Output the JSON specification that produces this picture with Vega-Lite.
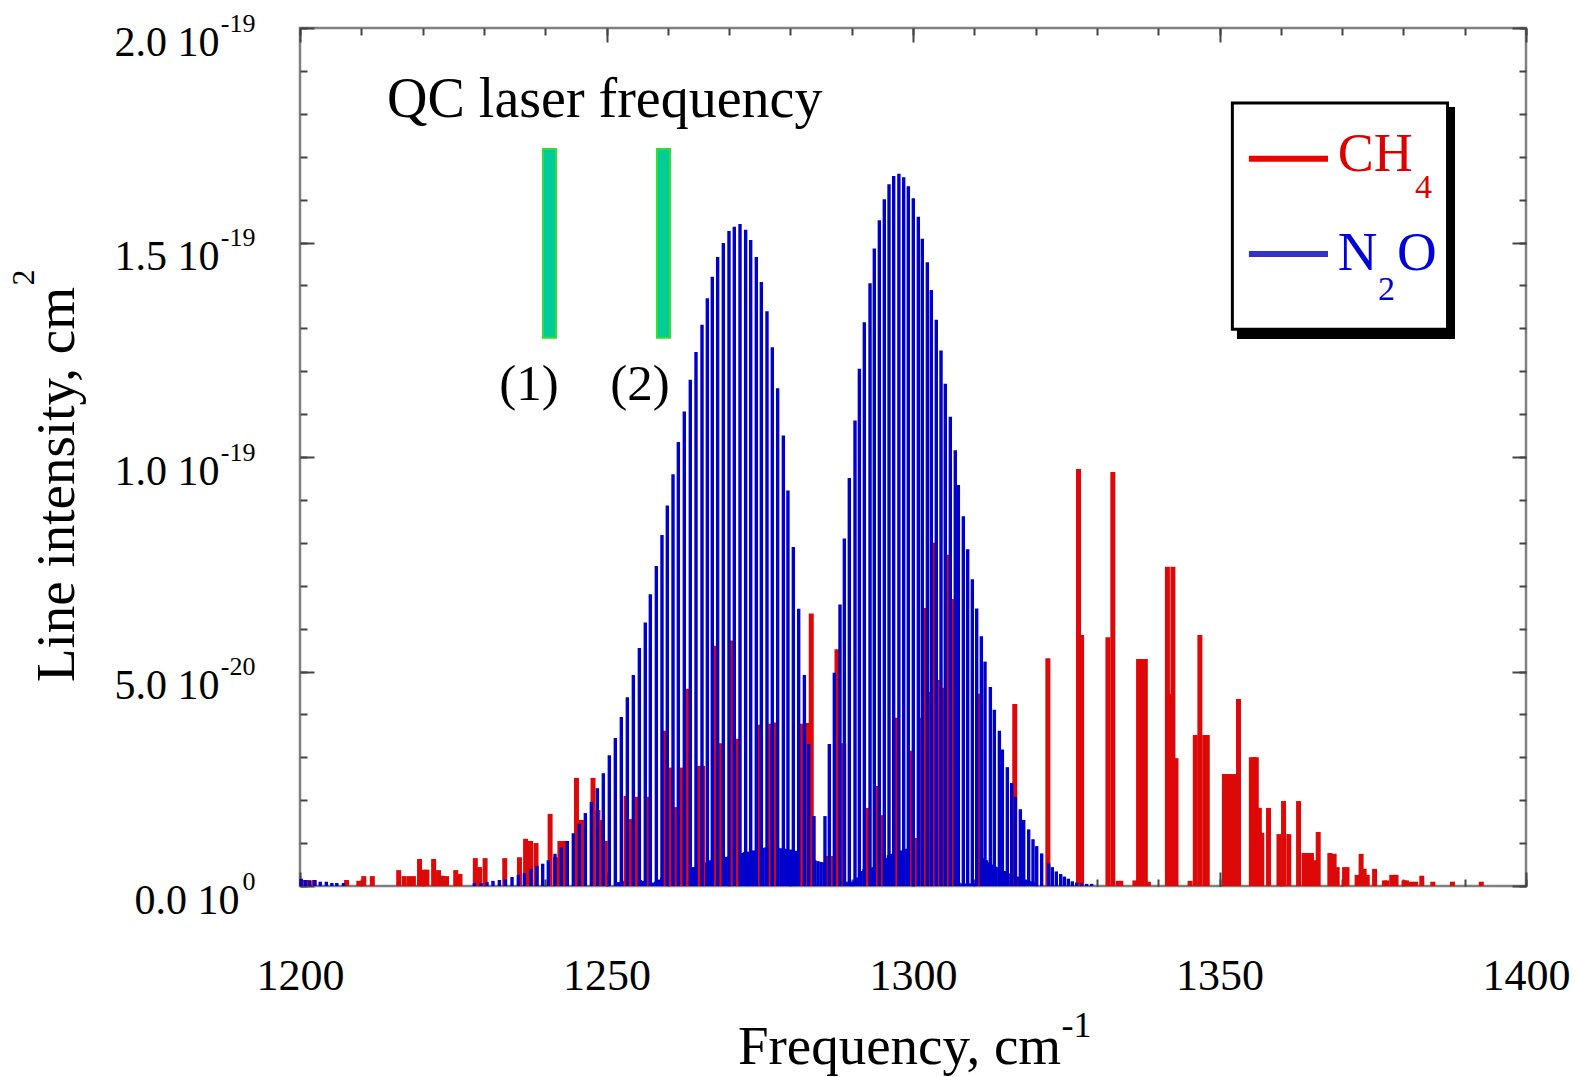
{
  "$schema": "https://vega.github.io/schema/vega-lite/v6.json",
  "width": 1226,
  "height": 858,
  "autosize": {"type": "none"},
  "padding": {"left": 300, "top": 28, "right": 51, "bottom": 191},
  "background": "white",
  "config": {
    "view": {"stroke": "#808080", "strokeWidth": 2.5},
    "font": "Liberation Serif",
    "axis": {"grid": false, "labelFont": "Liberation Serif", "titleFont": "Liberation Serif", "labelColor": "black", "titleColor": "black", "titleFontWeight": "normal", "labelOverlap": false, "labelFlush": false}
  },
  "datasets": {
    "hot": [
      {"f":1252.0,"s":0.09e-20},{"f":1252.5,"s":0.1e-20},{"f":1253.0,"s":0.12e-20},{"f":1253.5,"s":0.14e-20},{"f":1254.0,"s":0.14e-20},{"f":1254.5,"s":0.14e-20},{"f":1255.0,"s":0.14e-20},{"f":1255.5,"s":0.14e-20},{"f":1256.0,"s":0.12e-20},{"f":1256.5,"s":0.1e-20},{"f":1257.0,"s":0.08e-20},{"f":1257.5,"s":0.08e-20},{"f":1258.0,"s":0.1e-20},{"f":1258.5,"s":0.15e-20},{"f":1259.0,"s":0.2e-20},{"f":1259.5,"s":0.26e-20},{"f":1260.0,"s":0.28e-20},{"f":1260.5,"s":0.3e-20},{"f":1261.0,"s":0.3e-20},{"f":1261.5,"s":0.33e-20},{"f":1262.0,"s":0.37e-20},{"f":1262.5,"s":0.37e-20},{"f":1263.0,"s":0.4e-20},{"f":1263.5,"s":0.42e-20},{"f":1264.0,"s":0.44e-20},{"f":1264.5,"s":0.44e-20},{"f":1265.0,"s":0.5e-20},{"f":1265.5,"s":0.54e-20},{"f":1266.0,"s":0.55e-20},{"f":1266.5,"s":0.55e-20},{"f":1267.0,"s":0.6e-20},{"f":1267.5,"s":0.62e-20},{"f":1268.0,"s":0.65e-20},{"f":1268.5,"s":0.65e-20},{"f":1269.0,"s":0.66e-20},{"f":1269.5,"s":0.68e-20},{"f":1270.0,"s":0.7e-20},{"f":1270.5,"s":0.7e-20},{"f":1271.0,"s":0.72e-20},{"f":1271.5,"s":0.74e-20},{"f":1272.0,"s":0.77e-20},{"f":1272.5,"s":0.79e-20},{"f":1273.0,"s":0.8e-20},{"f":1273.5,"s":0.82e-20},{"f":1274.0,"s":0.83e-20},{"f":1274.5,"s":0.85e-20},{"f":1275.0,"s":0.88e-20},{"f":1275.5,"s":0.89e-20},{"f":1276.0,"s":0.9e-20},{"f":1276.5,"s":0.9e-20},{"f":1277.0,"s":0.9e-20},{"f":1277.5,"s":0.9e-20},{"f":1278.0,"s":0.89e-20},{"f":1278.5,"s":0.88e-20},{"f":1279.0,"s":0.87e-20},{"f":1279.5,"s":0.86e-20},{"f":1280.0,"s":0.85e-20},{"f":1280.5,"s":0.83e-20},{"f":1281.0,"s":0.82e-20},{"f":1281.5,"s":0.8e-20},{"f":1282.0,"s":0.76e-20},{"f":1282.5,"s":0.72e-20},{"f":1283.0,"s":0.7e-20},{"f":1283.5,"s":0.65e-20},{"f":1284.0,"s":0.6e-20},{"f":1284.5,"s":0.58e-20},{"f":1285.0,"s":0.56e-20},{"f":1285.5,"s":0.55e-20},{"f":1286.0,"s":0.5e-20},{"f":1286.5,"s":0.4e-20},{"f":1287.0,"s":0.35e-20},{"f":1287.5,"s":0.3e-20},{"f":1288.0,"s":0.2e-20},{"f":1288.5,"s":0.12e-20},{"f":1289.0,"s":0.1e-20},{"f":1289.5,"s":0.1e-20},{"f":1290.0,"s":0.1e-20},{"f":1290.5,"s":0.12e-20},{"f":1291.0,"s":0.2e-20},{"f":1291.5,"s":0.35e-20},{"f":1292.0,"s":0.39e-20},{"f":1292.5,"s":0.4e-20},{"f":1293.0,"s":0.42e-20},{"f":1293.5,"s":0.44e-20},{"f":1294.0,"s":0.5e-20},{"f":1294.5,"s":0.58e-20},{"f":1295.0,"s":0.6e-20},{"f":1295.5,"s":0.65e-20},{"f":1296.0,"s":0.72e-20},{"f":1296.5,"s":0.75e-20},{"f":1297.0,"s":0.77e-20},{"f":1297.5,"s":0.8e-20},{"f":1298.0,"s":0.83e-20},{"f":1298.5,"s":0.85e-20},{"f":1299.0,"s":0.87e-20},{"f":1299.5,"s":0.9e-20},{"f":1300.0,"s":0.93e-20},{"f":1300.5,"s":0.95e-20},{"f":1301.0,"s":0.97e-20},{"f":1301.5,"s":0.98e-20},{"f":1302.0,"s":0.98e-20},{"f":1302.5,"s":0.98e-20},{"f":1303.0,"s":0.98e-20},{"f":1303.5,"s":0.98e-20},{"f":1304.0,"s":0.98e-20},{"f":1304.5,"s":0.98e-20},{"f":1305.0,"s":0.98e-20},{"f":1305.5,"s":0.97e-20},{"f":1306.0,"s":0.96e-20},{"f":1306.5,"s":0.5e-20},{"f":1307.0,"s":0.1e-20},{"f":1307.5,"s":0.08e-20},{"f":1308.0,"s":0.06e-20},{"f":1308.5,"s":0.06e-20},{"f":1309.0,"s":0.06e-20},{"f":1309.5,"s":0.06e-20},{"f":1310.0,"s":0.06e-20},{"f":1310.5,"s":0.3e-20},{"f":1311.0,"s":0.62e-20},{"f":1311.5,"s":0.65e-20},{"f":1312.0,"s":0.6e-20},{"f":1312.5,"s":0.55e-20},{"f":1313.0,"s":0.5e-20},{"f":1313.5,"s":0.45e-20},{"f":1314.0,"s":0.43e-20},{"f":1314.5,"s":0.4e-20},{"f":1315.0,"s":0.35e-20},{"f":1315.5,"s":0.3e-20},{"f":1316.0,"s":0.27e-20},{"f":1316.5,"s":0.25e-20},{"f":1317.0,"s":0.22e-20},{"f":1317.5,"s":0.2e-20},{"f":1318.0,"s":0.18e-20},{"f":1318.5,"s":0.15e-20},{"f":1319.0,"s":0.12e-20},{"f":1319.5,"s":0.1e-20},{"f":1320.0,"s":0.08e-20}
    ],
    "n2o": [
      {"f":1200.2,"s":0.17e-20},{"f":1200.9,"s":0.14e-20},{"f":1201.6,"s":0.12e-20},{"f":1202.4,"s":0.14e-20},{"f":1203.3,"s":0.1e-20},{"f":1204.3,"s":0.1e-20},{"f":1205.2,"s":0.07e-20},{"f":1206.0,"s":0.07e-20},{"f":1207.1,"s":0.07e-20},
      {"f":1228.44,"s":0.07e-20},{"f":1229.53,"s":0.07e-20},{"f":1230.51,"s":0.09e-20},{"f":1231.48,"s":0.12e-20},{"f":1232.52,"s":0.14e-20},{"f":1233.5,"s":0.16e-20},{"f":1234.59,"s":0.21e-20},{"f":1235.62,"s":0.26e-20},{"f":1236.6,"s":0.3e-20},{"f":1237.68,"s":0.4e-20},{"f":1238.66,"s":0.47e-20},
      {"f":1239.59,"s":0.52e-20},{"f":1240.51,"s":0.6e-20},{"f":1241.6,"s":0.75e-20},{"f":1242.63,"s":0.9e-20},{"f":1243.61,"s":1.05e-20},{"f":1244.59,"s":1.23e-20},{"f":1245.57,"s":1.45e-20},{"f":1246.55,"s":1.7e-20},{"f":1247.53,"s":1.96e-20},{"f":1248.51,"s":2.28e-20},{"f":1249.48,"s":2.63e-20},{"f":1250.46,"s":3.05e-20},{"f":1251.44,"s":3.45e-20},{"f":1252.42,"s":3.94e-20},{"f":1253.4,"s":4.4e-20},{"f":1254.38,"s":4.92e-20},{"f":1255.36,"s":5.55e-20},{"f":1256.33,"s":6.14e-20},{"f":1257.15,"s":6.8e-20},{"f":1258.13,"s":7.46e-20},{"f":1259.05,"s":8.18e-20},{"f":1259.92,"s":8.87e-20},{"f":1260.85,"s":9.6e-20},{"f":1261.72,"s":10.35e-20},{"f":1262.69,"s":11.06e-20},{"f":1263.67,"s":11.8e-20},{"f":1264.6,"s":12.45e-20},{"f":1265.58,"s":13.08e-20},{"f":1266.45,"s":13.7e-20},{"f":1267.26,"s":14.2e-20},{"f":1268.13,"s":14.66e-20},{"f":1269.06,"s":14.99e-20},{"f":1269.98,"s":15.27e-20},{"f":1270.85,"s":15.37e-20},{"f":1271.78,"s":15.43e-20},{"f":1272.7,"s":15.3e-20},{"f":1273.52,"s":15.06e-20},{"f":1274.44,"s":14.66e-20},{"f":1275.26,"s":14.08e-20},{"f":1276.18,"s":13.4e-20},{"f":1277.05,"s":12.56e-20},{"f":1277.92,"s":11.6e-20},{"f":1278.85,"s":10.5e-20},{"f":1279.6,"s":9.22e-20},{"f":1280.48,"s":7.9e-20},{"f":1281.35,"s":6.46e-20},{"f":1282.28,"s":4.92e-20},{"f":1282.98,"s":3.31e-20},{"f":1283.85,"s":1.63e-20},
      {"f":1285.64,"s":1.63e-20},{"f":1286.35,"s":3.31e-20},{"f":1287.17,"s":4.97e-20},{"f":1288.09,"s":6.56e-20},{"f":1288.8,"s":8.1e-20},{"f":1289.61,"s":9.51e-20},{"f":1290.54,"s":10.85e-20},{"f":1291.25,"s":12.06e-20},{"f":1292.06,"s":13.14e-20},{"f":1292.99,"s":14.05e-20},{"f":1293.69,"s":14.86e-20},{"f":1294.51,"s":15.52e-20},{"f":1295.32,"s":16.01e-20},{"f":1296.09,"s":16.36e-20},{"f":1296.85,"s":16.55e-20},{"f":1297.7,"s":16.6e-20},{"f":1298.48,"s":16.52e-20},{"f":1299.24,"s":16.31e-20},{"f":1300.05,"s":16.03e-20},{"f":1300.87,"s":15.6e-20},{"f":1301.52,"s":15.09e-20},{"f":1302.34,"s":14.54e-20},{"f":1302.99,"s":13.89e-20},{"f":1303.8,"s":13.2e-20},{"f":1304.57,"s":12.48e-20},{"f":1305.27,"s":11.71e-20},{"f":1306.09,"s":10.94e-20},{"f":1306.9,"s":10.16e-20},{"f":1307.4,"s":9.35e-20},{"f":1308.21,"s":8.62e-20},{"f":1308.92,"s":7.85e-20},{"f":1309.68,"s":7.15e-20},{"f":1310.39,"s":6.47e-20},{"f":1311.15,"s":5.82e-20},{"f":1311.75,"s":5.23e-20},{"f":1312.62,"s":4.64e-20},{"f":1313.27,"s":4.11e-20},{"f":1314.09,"s":3.62e-20},{"f":1314.58,"s":3.18e-20},{"f":1315.39,"s":2.77e-20},{"f":1316.1,"s":2.4e-20},{"f":1316.7,"s":2.08e-20},{"f":1317.51,"s":1.79e-20},{"f":1318.06,"s":1.54e-20},{"f":1318.87,"s":1.32e-20},{"f":1319.58,"s":1.09e-20},{"f":1320.18,"s":0.93e-20},{"f":1320.99,"s":0.76e-20},{"f":1322.13,"s":0.53e-20},{"f":1322.73,"s":0.44e-20},{"f":1323.38,"s":0.34e-20},{"f":1324.09,"s":0.28e-20},{"f":1324.69,"s":0.22e-20},{"f":1325.34,"s":0.17e-20},{"f":1325.99,"s":0.11e-20},{"f":1326.7,"s":0.08e-20},{"f":1327.51,"s":0.06e-20},{"f":1328.33,"s":0.05e-20},{"f":1329.15,"s":0.05e-20}
    ],
    "ch4": [
      {"f":1200.8,"s":0.14e-20},{"f":1201.4,"s":0.14e-20},{"f":1202.3,"s":0.14e-20},{"f":1207.6,"s":0.14e-20},{"f":1209.6,"s":0.12e-20},{"f":1210.4,"s":0.23e-20},{"f":1211.8,"s":0.23e-20},{"f":1216.1,"s":0.37e-20},{"f":1217.0,"s":0.23e-20},{"f":1217.8,"s":0.23e-20},{"f":1218.5,"s":0.23e-20},{"f":1219.5,"s":0.63e-20},{"f":1220.2,"s":0.38e-20},{"f":1220.7,"s":0.38e-20},{"f":1221.8,"s":0.63e-20},{"f":1222.6,"s":0.37e-20},{"f":1223.2,"s":0.24e-20},{"f":1223.9,"s":0.23e-20},{"f":1225.4,"s":0.37e-20},{"f":1226.1,"s":0.28e-20},{"f":1228.6,"s":0.65e-20},{"f":1229.3,"s":0.44e-20},{"f":1230.2,"s":0.65e-20},{"f":1233.4,"s":0.65e-20},{"f":1235.8,"s":0.67e-20},{"f":1236.8,"s":1.1e-20},{"f":1237.6,"s":1.05e-20},{"f":1238.5,"s":1.0e-20},{"f":1240.8,"s":1.68e-20},{"f":1241.7,"s":0.67e-20},{"f":1242.4,"s":1.05e-20},{"f":1243.1,"s":1.05e-20},{"f":1245.1,"s":2.52e-20},{"f":1245.9,"s":1.54e-20},{"f":1247.8,"s":2.52e-20},{"f":1248.6,"s":1.77e-20},{"f":1249.3,"s":1.54e-20},{"f":1249.8,"s":1.05e-20},{"f":1253.2,"s":2.1e-20},{"f":1253.9,"s":1.56e-20},{"f":1254.8,"s":2.08e-20},{"f":1256.8,"s":2.08e-20},{"f":1259.6,"s":3.62e-20},{"f":1260.4,"s":2.76e-20},{"f":1261.4,"s":1.84e-20},{"f":1262.3,"s":2.76e-20},{"f":1263.2,"s":4.6e-20},{"f":1265.2,"s":2.8e-20},{"f":1265.7,"s":2.8e-20},{"f":1267.7,"s":5.6e-20},{"f":1268.6,"s":3.33e-20},{"f":1270.45,"s":5.72e-20},{"f":1271.35,"s":3.43e-20},{"f":1274.9,"s":3.76e-20},{"f":1276.8,"s":3.78e-20},{"f":1277.4,"s":3.81e-20},{"f":1281.7,"s":3.78e-20},{"f":1282.75,"s":3.8e-20},{"f":1283.4,"s":6.35e-20},{"f":1286.2,"s":0.7e-20},{"f":1286.6,"s":0.7e-20},{"f":1287.6,"s":5.52e-20},{"f":1288.7,"s":3.33e-20},{"f":1292.5,"s":1.82e-20},{"f":1294.2,"s":2.33e-20},{"f":1294.95,"s":1.65e-20},{"f":1297.3,"s":3.92e-20},{"f":1299.6,"s":3.15e-20},{"f":1300.45,"s":1.12e-20},{"f":1301.2,"s":3.92e-20},{"f":1301.9,"s":6.48e-20},{"f":1302.7,"s":4.52e-20},{"f":1303.4,"s":8.0e-20},{"f":1304.2,"s":4.8e-20},{"f":1305.0,"s":4.62e-20},{"f":1305.7,"s":7.72e-20},{"f":1306.35,"s":6.69e-20},{"f":1306.7,"s":2.9e-20},{"f":1311.0,"s":4.48e-20},{"f":1316.6,"s":4.24e-20},{"f":1322.0,"s":5.31e-20},{"f":1327.0,"s":9.72e-20},{"f":1327.5,"s":5.85e-20},{"f":1331.8,"s":5.8e-20},{"f":1332.6,"s":9.65e-20},{"f":1333.5,"s":0.12e-20},{"f":1333.9,"s":0.12e-20},{"f":1336.2,"s":0.13e-20},{"f":1336.8,"s":5.29e-20},{"f":1337.35,"s":5.29e-20},{"f":1337.9,"s":5.29e-20},{"f":1338.4,"s":0.1e-20},{"f":1341.5,"s":7.44e-20},{"f":1341.95,"s":4.48e-20},{"f":1342.4,"s":7.44e-20},{"f":1342.9,"s":2.98e-20},{"f":1345.2,"s":0.12e-20},{"f":1346.05,"s":3.52e-20},{"f":1346.8,"s":5.85e-20},{"f":1347.6,"s":3.52e-20},{"f":1348.0,"s":3.52e-20},{"f":1350.8,"s":2.61e-20},{"f":1351.35,"s":2.61e-20},{"f":1351.8,"s":2.61e-20},{"f":1352.5,"s":2.61e-20},{"f":1353.1,"s":4.36e-20},{"f":1355.2,"s":3.0e-20},{"f":1355.6,"s":3.0e-20},{"f":1356.0,"s":3.0e-20},{"f":1356.5,"s":1.82e-20},{"f":1356.9,"s":1.24e-20},{"f":1358.0,"s":1.82e-20},{"f":1359.7,"s":1.21e-20},{"f":1360.45,"s":1.98e-20},{"f":1361.3,"s":1.21e-20},{"f":1362.9,"s":1.98e-20},{"f":1363.8,"s":0.77e-20},{"f":1364.4,"s":0.77e-20},{"f":1365.0,"s":0.77e-20},{"f":1365.45,"s":0.6e-20},{"f":1366.1,"s":1.26e-20},{"f":1368.0,"s":0.77e-20},{"f":1368.7,"s":0.75e-20},{"f":1369.2,"s":0.44e-20},{"f":1370.4,"s":0.44e-20},{"f":1370.8,"s":0.44e-20},{"f":1372.45,"s":0.26e-20},{"f":1373.1,"s":0.75e-20},{"f":1373.6,"s":0.4e-20},{"f":1374.1,"s":0.26e-20},{"f":1375.3,"s":0.4e-20},{"f":1376.9,"s":0.13e-20},{"f":1377.3,"s":0.13e-20},{"f":1378.1,"s":0.26e-20},{"f":1378.8,"s":0.26e-20},{"f":1380.1,"s":0.13e-20},{"f":1380.5,"s":0.13e-20},{"f":1381.3,"s":0.1e-20},{"f":1382.0,"s":0.1e-20},{"f":1383.0,"s":0.24e-20},{"f":1384.8,"s":0.1e-20},{"f":1388.0,"s":0.1e-20},{"f":1392.7,"s":0.1e-20}
    ]
  },
  "resolve": {"axis": {"x": "independent", "y": "independent"}},
  "layer": [
    {
      "data": {"name": "hot"},
      "mark": {"type": "bar", "orient": "vertical", "size": 3.4, "color": "#0000cc"},
      "encoding": {
        "x": {"field": "f", "type": "quantitative",
          "scale": {"domain": [1200, 1400], "nice": false, "zero": false, "padding": 0},
          "axis": {"orient": "bottom", "values": [1200, 1250, 1300, 1350, 1400], "format": "d", "ticks": false, "domain": false,
            "labelFontSize": 44, "labelPadding": 68, "labelBaseline": "top",
            "title": "Frequency, cm", "titleFontSize": 55, "titleX": 599, "titleY": 177, "titleBaseline": "alphabetic", "titleAlign": "center"}},
        "y": {"field": "s", "type": "quantitative", "stack": null,
          "scale": {"domain": [0, 2e-19], "nice": false, "zero": true},
          "axis": {"orient": "left", "values": [0, 5e-20, 1e-19, 1.5e-19, 2e-19], "ticks": false, "domain": false,
            "labelExpr": "datum.value == 0 ? '0.0 10' : (datum.value < 9e-20 ? format(datum.value*1e20, '.1f') : format(datum.value*1e19, '.1f')) + ' 10'",
            "labelFontSize": 42, "labelAlign": "right", "labelBaseline": "top", "labelOffset": -6,
            "labelPadding": {"condition": {"test": "datum.value == 0", "value": 61}, "value": 81},
            "title": "Line intensity, cm", "titleFontSize": 55, "titleAngle": -90, "titleX": -227, "titleY": 456, "titleBaseline": "alphabetic", "titleAlign": "center"}}
      }
    },
    {
      "data": {"name": "ch4"},
      "mark": {"type": "bar", "orient": "vertical", "size": 5, "color": "#dd0808"},
      "encoding": {
        "x": {"field": "f", "type": "quantitative",
          "scale": {"domain": [1200, 1400], "nice": false, "zero": false, "padding": 0},
          "axis": {"orient": "bottom", "values": [1200, 1250, 1300, 1350, 1400], "labels": false, "domain": false,
            "tickSize": -14, "tickWidth": 2, "tickColor": "#444444",
            "title": "-1", "titleFontSize": 36, "titleX": 776, "titleY": 150, "titleBaseline": "alphabetic", "titleAlign": "center"}},
        "y": {"field": "s", "type": "quantitative", "stack": null,
          "scale": {"domain": [0, 2e-19], "nice": false, "zero": true},
          "axis": {"orient": "left", "values": [0, 5e-20, 1e-19, 1.5e-19, 2e-19], "ticks": false, "domain": false,
            "labelExpr": "datum.value == 0 ? '0' : (datum.value < 9e-20 ? '-20' : '-19')",
            "labelFontSize": 26, "labelAlign": "right", "labelBaseline": "top", "labelPadding": 45, "labelOffset": -18,
            "title": "2", "titleFontSize": 32, "titleAngle": -90, "titleX": -267, "titleY": 249, "titleBaseline": "alphabetic", "titleAlign": "center"}}
      }
    },
    {
      "data": {"name": "n2o"},
      "mark": {"type": "bar", "orient": "vertical", "size": 3.4, "color": "#0000cc"},
      "encoding": {
        "x": {"field": "f", "type": "quantitative",
          "scale": {"domain": [1200, 1400], "nice": false, "zero": false, "padding": 0},
          "axis": {"orient": "bottom", "values": [1200,1210,1220,1230,1240,1250,1260,1270,1280,1290,1300,1310,1320,1330,1340,1350,1360,1370,1380,1390,1400],
            "labels": false, "domain": false, "tickSize": -7, "tickWidth": 2, "tickColor": "#444444", "title": null}},
        "y": {"field": "s", "type": "quantitative", "stack": null,
          "scale": {"domain": [0, 2e-19], "nice": false, "zero": true},
          "axis": {"orient": "left", "values": [0, 5e-20, 1e-19, 1.5e-19, 2e-19], "labels": false, "domain": false,
            "tickSize": -14, "tickWidth": 2, "tickColor": "#444444", "title": null}}
      }
    },
    {
      "data": {"values": [
        {"label": "(1)", "f1": 1239.64, "f2": 1241.76, "s1": 12.78e-20, "s2": 17.18e-20},
        {"label": "(2)", "f1": 1258.24, "f2": 1260.36, "s1": 12.78e-20, "s2": 17.18e-20}
      ]},
      "mark": {"type": "rect", "fill": "#00cc99", "stroke": "#33dd33", "strokeWidth": 2},
      "encoding": {
        "x": {"field": "f1", "type": "quantitative",
          "scale": {"domain": [1200, 1400], "nice": false, "zero": false, "padding": 0},
          "axis": {"orient": "top", "values": [1200, 1250, 1300, 1350, 1400], "labels": false, "domain": false,
            "tickSize": -14, "tickWidth": 2, "tickColor": "#444444", "title": null}},
        "x2": {"field": "f2"},
        "y": {"field": "s1", "type": "quantitative",
          "scale": {"domain": [0, 2e-19], "nice": false, "zero": true},
          "axis": {"orient": "left", "values": [0,1e-20,2e-20,3e-20,4e-20,5e-20,6e-20,7e-20,8e-20,9e-20,10e-20,11e-20,12e-20,13e-20,14e-20,15e-20,16e-20,17e-20,18e-20,19e-20,20e-20],
            "labels": false, "domain": false, "tickSize": -7, "tickWidth": 2, "tickColor": "#444444", "title": null}},
        "y2": {"field": "s2"}
      }
    },
    {
      "data": {"values": [{"f": 1214.2, "s": 17.93e-20, "text": "QC laser frequency"}]},
      "mark": {"type": "text", "font": "Liberation Serif", "fontSize": 56, "align": "left", "baseline": "alphabetic", "color": "black"},
      "encoding": {
        "x": {"field": "f", "type": "quantitative",
          "scale": {"domain": [1200, 1400], "nice": false, "zero": false, "padding": 0},
          "axis": {"orient": "top", "values": [1200,1210,1220,1230,1240,1250,1260,1270,1280,1290,1300,1310,1320,1330,1340,1350,1360,1370,1380,1390,1400],
            "labels": false, "domain": false, "tickSize": -7, "tickWidth": 2, "tickColor": "#444444", "title": null}},
        "y": {"field": "s", "type": "quantitative",
          "scale": {"domain": [0, 2e-19], "nice": false, "zero": true},
          "axis": {"orient": "right", "values": [0, 5e-20, 1e-19, 1.5e-19, 2e-19], "labels": false, "domain": false,
            "tickSize": -14, "tickWidth": 2, "tickColor": "#444444", "title": null}},
        "text": {"field": "text"}
      }
    },
    {
      "data": {"values": [
        {"f": 1237.36, "s": 11.33e-20, "text": "(1)"},
        {"f": 1255.46, "s": 11.33e-20, "text": "(2)"}
      ]},
      "mark": {"type": "text", "font": "Liberation Serif", "fontSize": 51, "align": "center", "baseline": "alphabetic", "color": "black"},
      "encoding": {
        "x": {"field": "f", "type": "quantitative",
          "scale": {"domain": [1200, 1400], "nice": false, "zero": false, "padding": 0}, "axis": null},
        "y": {"field": "s", "type": "quantitative",
          "scale": {"domain": [0, 2e-19], "nice": false, "zero": true},
          "axis": {"orient": "right", "values": [0,1e-20,2e-20,3e-20,4e-20,5e-20,6e-20,7e-20,8e-20,9e-20,10e-20,11e-20,12e-20,13e-20,14e-20,15e-20,16e-20,17e-20,18e-20,19e-20,20e-20],
            "labels": false, "domain": false, "tickSize": -7, "tickWidth": 2, "tickColor": "#444444", "title": null}},
        "text": {"field": "text"}
      }
    },
    {
      "data": {"values": [{"f1": 1352.85, "f2": 1388.42, "s1": 12.75e-20, "s2": 18.16e-20}]},
      "mark": {"type": "rect", "fill": "black"},
      "encoding": {
        "x": {"field": "f1", "type": "quantitative", "scale": {"domain": [1200, 1400], "nice": false, "zero": false, "padding": 0}, "axis": null},
        "x2": {"field": "f2"},
        "y": {"field": "s1", "type": "quantitative", "scale": {"domain": [0, 2e-19], "nice": false, "zero": true}, "axis": null},
        "y2": {"field": "s2"}
      }
    },
    {
      "data": {"values": [{"f1": 1352.1, "f2": 1387.2, "s1": 12.98e-20, "s2": 18.25e-20}]},
      "mark": {"type": "rect", "fill": "white", "stroke": "black", "strokeWidth": 3},
      "encoding": {
        "x": {"field": "f1", "type": "quantitative", "scale": {"domain": [1200, 1400], "nice": false, "zero": false, "padding": 0}, "axis": null},
        "x2": {"field": "f2"},
        "y": {"field": "s1", "type": "quantitative", "scale": {"domain": [0, 2e-19], "nice": false, "zero": true}, "axis": null},
        "y2": {"field": "s2"}
      }
    },
    {
      "data": {"values": [{"species": "CH4", "f1": 1354.8, "f2": 1367.7, "s": 16.95e-20}]},
      "mark": {"type": "rule", "color": "#ee0000", "strokeWidth": 6},
      "encoding": {
        "x": {"field": "f1", "type": "quantitative", "scale": {"domain": [1200, 1400], "nice": false, "zero": false, "padding": 0}, "axis": null},
        "x2": {"field": "f2"},
        "y": {"field": "s", "type": "quantitative", "scale": {"domain": [0, 2e-19], "nice": false, "zero": true}, "axis": null}
      }
    },
    {
      "data": {"values": [{"species": "N2O", "f1": 1354.8, "f2": 1367.7, "s": 14.73e-20}]},
      "mark": {"type": "rule", "color": "#3333cc", "strokeWidth": 6},
      "encoding": {
        "x": {"field": "f1", "type": "quantitative", "scale": {"domain": [1200, 1400], "nice": false, "zero": false, "padding": 0}, "axis": null},
        "x2": {"field": "f2"},
        "y": {"field": "s", "type": "quantitative", "scale": {"domain": [0, 2e-19], "nice": false, "zero": true}, "axis": null}
      }
    },
    {
      "data": {"values": [{"f": 1369.3, "s": 16.67e-20, "text": "CH"}]},
      "mark": {"type": "text", "font": "Liberation Serif", "fontSize": 54, "align": "left", "baseline": "alphabetic", "color": "#dd0000"},
      "encoding": {
        "x": {"field": "f", "type": "quantitative", "scale": {"domain": [1200, 1400], "nice": false, "zero": false, "padding": 0}, "axis": null},
        "y": {"field": "s", "type": "quantitative", "scale": {"domain": [0, 2e-19], "nice": false, "zero": true}, "axis": null},
        "text": {"field": "text"}
      }
    },
    {
      "data": {"values": [{"f": 1381.9, "s": 16.04e-20, "text": "4"}]},
      "mark": {"type": "text", "font": "Liberation Serif", "fontSize": 34, "align": "left", "baseline": "alphabetic", "color": "#dd0000"},
      "encoding": {
        "x": {"field": "f", "type": "quantitative", "scale": {"domain": [1200, 1400], "nice": false, "zero": false, "padding": 0}, "axis": null},
        "y": {"field": "s", "type": "quantitative", "scale": {"domain": [0, 2e-19], "nice": false, "zero": true}, "axis": null},
        "text": {"field": "text"}
      }
    },
    {
      "data": {"values": [{"f": 1369.3, "s": 14.36e-20, "text": "N"}, {"f": 1378.96, "s": 14.36e-20, "text": "O"}]},
      "mark": {"type": "text", "font": "Liberation Serif", "fontSize": 55, "align": "left", "baseline": "alphabetic", "color": "#0000dd"},
      "encoding": {
        "x": {"field": "f", "type": "quantitative", "scale": {"domain": [1200, 1400], "nice": false, "zero": false, "padding": 0}, "axis": null},
        "y": {"field": "s", "type": "quantitative", "scale": {"domain": [0, 2e-19], "nice": false, "zero": true}, "axis": null},
        "text": {"field": "text"}
      }
    },
    {
      "data": {"values": [{"f": 1375.86, "s": 13.66e-20, "text": "2"}]},
      "mark": {"type": "text", "font": "Liberation Serif", "fontSize": 34, "align": "left", "baseline": "alphabetic", "color": "#0000dd"},
      "encoding": {
        "x": {"field": "f", "type": "quantitative", "scale": {"domain": [1200, 1400], "nice": false, "zero": false, "padding": 0}, "axis": null},
        "y": {"field": "s", "type": "quantitative", "scale": {"domain": [0, 2e-19], "nice": false, "zero": true}, "axis": null},
        "text": {"field": "text"}
      }
    }
  ]
}
